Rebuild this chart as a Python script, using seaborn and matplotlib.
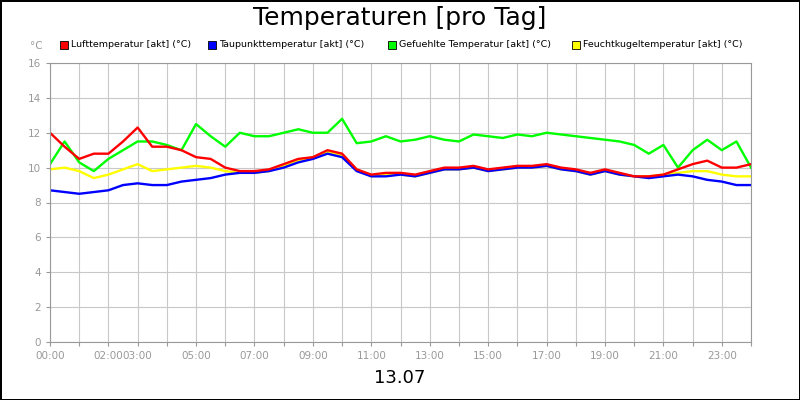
import numpy as np
import pandas as pd
import matplotlib
matplotlib.use("Agg")
import matplotlib.pyplot as plt
import seaborn as sns

hours = np.arange(0, 24.5, 0.5)
luft = [12.0, 11.2, 10.5, 10.8, 10.8, 11.5, 12.3, 11.2, 11.2, 11.0, 10.6, 10.5, 10.0, 9.8, 9.8, 9.9,
        10.2, 10.5, 10.6, 11.0, 10.8, 9.9, 9.6, 9.7, 9.7, 9.6, 9.8, 10.0, 10.0, 10.1, 9.9, 10.0,
        10.1, 10.1, 10.2, 10.0, 9.9, 9.7, 9.9, 9.7, 9.5, 9.5, 9.6, 9.9, 10.2, 10.4, 10.0, 10.0, 10.2]
taupunkt = [8.7, 8.6, 8.5, 8.6, 8.7, 9.0, 9.1, 9.0, 9.0, 9.2, 9.3, 9.4, 9.6, 9.7, 9.7, 9.8,
            10.0, 10.3, 10.5, 10.8, 10.6, 9.8, 9.5, 9.5, 9.6, 9.5, 9.7, 9.9, 9.9, 10.0, 9.8, 9.9,
            10.0, 10.0, 10.1, 9.9, 9.8, 9.6, 9.8, 9.6, 9.5, 9.4, 9.5, 9.6, 9.5, 9.3, 9.2, 9.0, 9.0]
gefuehlt = [10.2, 11.5, 10.3, 9.8, 10.5, 11.0, 11.5, 11.5, 11.3, 11.0, 12.5, 11.8, 11.2, 12.0, 11.8, 11.8,
            12.0, 12.2, 12.0, 12.0, 12.8, 11.4, 11.5, 11.8, 11.5, 11.6, 11.8, 11.6, 11.5, 11.9, 11.8, 11.7,
            11.9, 11.8, 12.0, 11.9, 11.8, 11.7, 11.6, 11.5, 11.3, 10.8, 11.3, 10.0, 11.0, 11.6, 11.0, 11.5, 10.0]
feucht = [9.9, 10.0, 9.8, 9.4, 9.6, 9.9, 10.2, 9.8, 9.9, 10.0, 10.1, 10.0, 9.8, 9.7, 9.7, 9.8,
          10.1, 10.4, 10.6, 10.9, 10.7, 9.9, 9.5, 9.6, 9.6, 9.5, 9.7, 9.9, 9.9, 10.0, 9.8, 9.9,
          10.0, 10.0, 10.1, 9.9, 9.8, 9.6, 9.8, 9.6, 9.5, 9.5, 9.6, 9.7, 9.8, 9.8, 9.6, 9.5, 9.5]

names = ["Lufttemperatur [akt] (°C)", "Taupunkttemperatur [akt] (°C)",
         "Gefuehlte Temperatur [akt] (°C)", "Feuchtkugeltemperatur [akt] (°C)"]
colors = ["#ff0000", "#0000ff", "#00ff00", "#ffff00"]
tick_hours = [0, 2, 3, 5, 7, 9, 11, 13, 15, 17, 19, 21, 23]

df = pd.DataFrame({"h": hours, names[0]: luft, names[1]: taupunkt, names[2]: gefuehlt, names[3]: feucht})
long = df.melt(id_vars="h", var_name="serie", value_name="t")

fig = plt.figure(figsize=(8, 4), dpi=100)
fig.patch.set_edgecolor("black")
fig.patch.set_linewidth(2)
ax = fig.add_axes([0.0625, 0.145, 0.8763, 0.6975])
# green first so red/blue sit on top like in the original
order = [names[2], names[3], names[1], names[0]]
sns.lineplot(data=long, x="h", y="t", hue="serie", hue_order=order,
             palette=dict(zip(names, colors)), linewidth=1.7, ax=ax, legend=False)
ax.set_xlim(0, 24)
ax.set_ylim(0, 16)
ax.set_xticks(range(25))
ax.set_xticklabels([f"{h:02d}:00" if h in tick_hours else "" for h in range(25)])
ax.set_yticks(range(0, 17, 2))
ax.grid(True, color="#c8c8c8", linewidth=0.8)
ax.tick_params(colors="#999999", labelsize=7.5, length=3)
ax.set_xlabel("")
ax.set_ylabel("")
for s in ax.spines.values():
    s.set_color("#999999")

fig.text(0.5, 0.955, "Temperaturen [pro Tag]", ha="center", va="center", fontsize=18)
fig.text(0.5, 0.055, "13.07", ha="center", va="center", fontsize=13)
fig.text(0.045, 0.885, "°C", ha="center", va="center", fontsize=7.5, color="#999999")
lx = [0.075, 0.26, 0.485, 0.715]
for x, n, c in zip(lx, names, colors):
    fig.patches.append(plt.Rectangle((x, 0.878), 0.01, 0.02, transform=fig.transFigure,
                                     facecolor=c, edgecolor="black", linewidth=0.6))
    fig.text(x + 0.014, 0.888, n, ha="left", va="center", fontsize=6.8)

fig.savefig("out.png", dpi=100)
